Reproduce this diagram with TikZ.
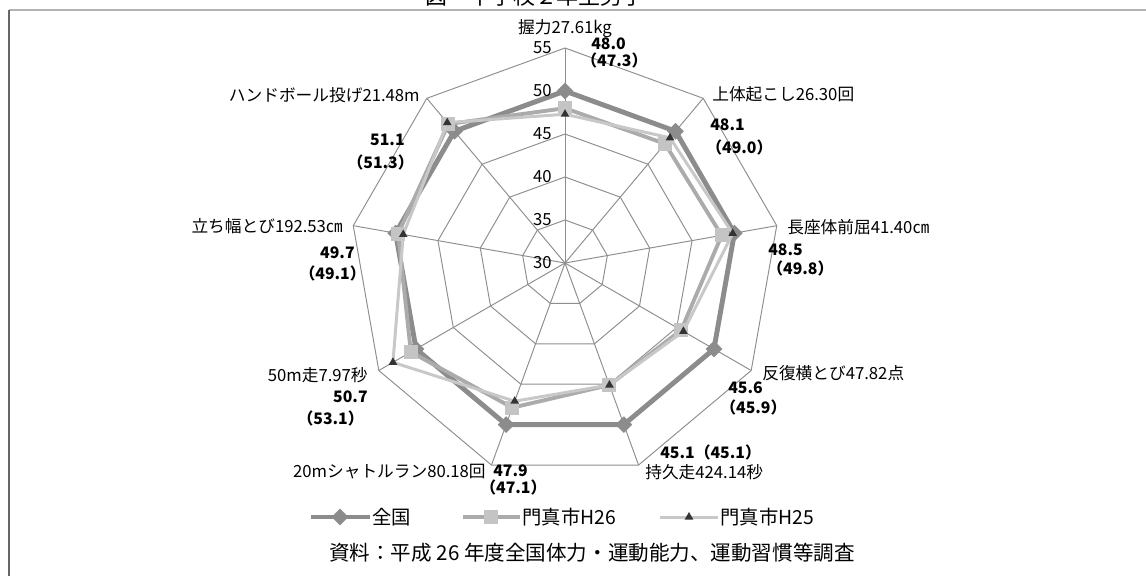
\documentclass[tikz,border=0pt]{standalone}
\usepackage{fontspec}
\setmainfont{Noto Sans CJK JP}
\usetikzlibrary{shapes.geometric,positioning}
\definecolor{zenkoku}{HTML}{8C8C8C}
\definecolor{kadomaA}{HTML}{ABABAB}
\definecolor{kadomaAfill}{HTML}{C4C4C4}
\definecolor{kadomaB}{HTML}{C8C8C8}
\definecolor{gridgray}{HTML}{8E8E8E}

\begin{document}
\begin{tikzpicture}[x=0.02cm,y=-0.02cm,
  lbl/.style={font=\fontsize{9.5}{11}\selectfont, inner sep=0pt},
  val/.style={font=\fontsize{9}{11}\selectfont\bfseries, inner sep=0pt},
  grid/.style={color=gridgray, line width=0.55pt},
  dmark/.style={diamond, fill=zenkoku, inner sep=0pt, minimum size=0.34cm},
  smark/.style={rectangle, fill=kadomaAfill, inner sep=0pt, minimum size=0.28cm},
  tmark/.style={regular polygon, regular polygon sides=3, fill=black!80, inner sep=0pt, minimum size=0.2cm}]
\useasboundingbox (0,0) rectangle (1146,576);
% frame and title
\node[font=\fontsize{12.5}{14}\selectfont, anchor=base, inner sep=0pt] (title) at (535,4.5) {図　中学校２年生男子};
\coordinate (f1) at (9,10);
\coordinate (f2) at (1146,10);
\coordinate (f3) at (9,576);
\draw[color=black!30, line width=1.2pt] (f1) -- (f2);
\draw[color=black!60, line width=0.9pt] (f1) -- (f3);

\coordinate (C) at (565,263);
\begin{scope}[shift={(C)}]
% grid
\foreach \r in {43,86,129,172,215}
  \draw[grid] (-90:\r) \foreach \k in {1,...,8} { -- (40*\k-90:\r) } -- cycle;
\foreach \k in {0,...,8}
  \draw[grid] (0,0) -- (40*\k-90:215);
% data
\foreach \v [count=\k from 0] in {50,50,50,50,50,50,50,50,50}
  \coordinate (n\k) at (40*\k-90:{(\v-30)*8.6});
\foreach \v [count=\k from 0] in {48.0,48.1,48.5,45.6,45.1,47.9,50.7,49.7,51.1}
  \coordinate (s\k) at (40*\k-90:{(\v-30)*8.6});
\foreach \v [count=\k from 0] in {47.3,49.0,49.8,45.9,45.1,47.1,53.1,49.1,51.3}
  \coordinate (t\k) at (40*\k-90:{(\v-30)*8.6});
\end{scope}

\draw[zenkoku, line width=2.8pt, line join=round] (n0) -- (n1) -- (n2) -- (n3) -- (n4) -- (n5) -- (n6) -- (n7) -- (n8) -- cycle;
\foreach \k in {0,...,8} \node[dmark] (dn\k) at (n\k) {};
\draw[kadomaA, line width=2.2pt, line join=round] (s0) -- (s1) -- (s2) -- (s3) -- (s4) -- (s5) -- (s6) -- (s7) -- (s8) -- cycle;
\foreach \k in {0,...,8} \node[smark] (ds\k) at (s\k) {};
\draw[kadomaB, line width=1.7pt, line join=round] (t0) -- (t1) -- (t2) -- (t3) -- (t4) -- (t5) -- (t6) -- (t7) -- (t8) -- cycle;
\foreach \k in {0,...,8} \node[tmark] (dt\k) at (t\k) {};

% scale values
\foreach \v/\r in {30/0,35/43,40/86,45/129,50/172,55/215}
  \node[lbl, anchor=east] (ax\v) at (552,263-\r) {\v};

% axis labels and values
\node[lbl] (akuryoku) at (565,29) {握力27.61kg};
\node[val, anchor=west] (v0a) at (591,44) {48.0};
\node[val, anchor=west] (v0b) at (581,60) {（47.3）};
\node[lbl, anchor=west] (joutai) at (712,94) {上体起こし26.30回};
\node[val, anchor=west] (v1a) at (710,125) {48.1};
\node[val, anchor=west] (v1b) at (706,147) {（49.0）};
\node[lbl, anchor=west] (chouza) at (787,227) {長座体前屈41.40㎝};
\node[val, anchor=west] (v2a) at (768,250) {48.5};
\node[val, anchor=west] (v2b) at (767,268) {（49.8）};
\node[lbl, anchor=west] (hanpuku) at (762,373) {反復横とび47.82点};
\node[val, anchor=west] (v3a) at (728,388) {45.6};
\node[val, anchor=west] (v3b) at (720,407) {（45.9）};
\node[val, anchor=west] (v4a) at (660,452) {45.1（45.1）};
\node[lbl, anchor=west] (jikyu) at (645,472) {持久走424.14秒};
\node[lbl, anchor=east] (shuttle) at (486,472) {20mシャトルラン80.18回};
\node[val, anchor=west] (v5a) at (493,471) {47.9};
\node[val, anchor=west] (v5b) at (480,487) {（47.1）};
\node[lbl, anchor=east] (fifty) at (368,375) {50m走7.97秒};
\node[val, anchor=east] (v6a) at (368,397) {50.7};
\node[val, anchor=east] (v6b) at (364,418) {（53.1）};
\node[lbl, anchor=east] (tachi) at (343,226) {立ち幅とび192.53㎝};
\node[val, anchor=east] (v7a) at (355,253) {49.7};
\node[val, anchor=east] (v7b) at (366,273) {（49.1）};
\node[lbl, anchor=east] (hand) at (420,95) {ハンドボール投げ21.48m};
\node[val, anchor=east] (v8a) at (405,140) {51.1};
\node[val, anchor=east] (v8b) at (414,162) {（51.3）};

% legend
\coordinate (l1a) at (311,517);
\coordinate (l1b) at (370,517);
\draw[zenkoku, line width=2.8pt] (l1a) -- (l1b);
\node[dmark] (l1m) at (340,517) {};
\node[lbl, font=\fontsize{11}{13}\selectfont, anchor=west] (l1t) at (372,517) {全国};
\coordinate (l2a) at (463,517);
\coordinate (l2b) at (520,517);
\draw[kadomaA, line width=2.2pt] (l2a) -- (l2b);
\node[smark] (l2m) at (491,517) {};
\node[lbl, font=\fontsize{11}{13}\selectfont, anchor=west] (l2t) at (522,517) {門真市H26};
\coordinate (l3a) at (660,517);
\coordinate (l3b) at (718,517);
\draw[kadomaB, line width=1.7pt] (l3a) -- (l3b);
\node[tmark] (l3m) at (689,517) {};
\node[lbl, font=\fontsize{11}{13}\selectfont, anchor=west] (l3t) at (720,517) {門真市H25};

% source
\node[font=\fontsize{11.7}{14}\selectfont, inner sep=0pt] (src) at (592,553) {資料：平成 26 年度全国体力・運動能力、運動習慣等調査};
\end{tikzpicture}
\end{document}
